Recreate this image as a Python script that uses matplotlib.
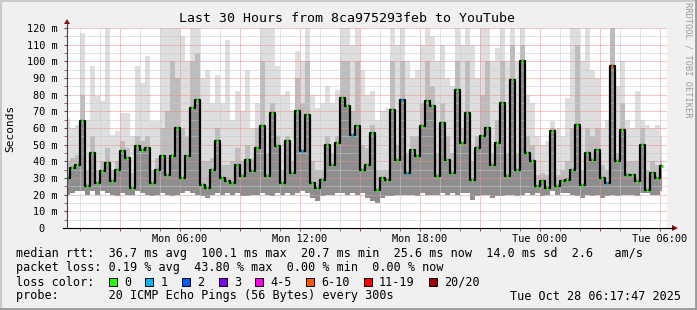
import numpy as np
import matplotlib.pyplot as plt
from matplotlib.patches import Rectangle, Polygon
from matplotlib.lines import Line2D

# SmokePing style graph, 15 minute steps, time in hours from Mon 00:00
t_start = 0.35
t_step = 0.25

# median rtt (ms)
median = [30, 36, 38, 64, 25, 45, 27, 34, 39, 28, 35, 46, 42, 24, 49, 47, 48, 27, 35, 43,
          32, 43, 60, 30, 43, 72, 77, 26, 24, 35, 52, 30, 28, 27, 38, 31, 41, 34, 48, 61,
          31, 69, 49, 27, 52, 33, 70, 46, 68, 27, 24, 29, 50, 38, 51, 78, 73, 56, 61, 35,
          38, 57, 23, 30, 29, 71, 41, 77, 33, 47, 43, 61, 76, 73, 31, 63, 41, 33, 83, 51,
          69, 29, 48, 55, 60, 38, 51, 75, 31, 89, 35, 100, 45, 40, 25, 28, 24, 58, 25, 28,
          29, 35, 62, 26, 45, 41, 47, 30, 27, 97, 40, 59, 32, 32, 28, 50, 23, 33, 30, 37]

# smoke: highest ping
smoke_hi = [66, 60, 62, 117, 65, 97, 79, 76, 120, 56, 58, 69, 69, 55, 97, 87, 103, 64, 64, 120,
            120, 120, 120, 115, 100, 120, 120, 90, 95, 75, 92, 75, 113, 65, 82, 70, 95, 60, 75, 120,
            120, 120, 97, 80, 82, 70, 106, 100, 120, 80, 72, 75, 85, 75, 83, 120, 120, 110, 120, 95,
            80, 82, 65, 70, 72, 120, 110, 120, 100, 90, 95, 110, 120, 115, 100, 110, 90, 85, 120, 110,
            120, 110, 90, 120, 120, 100, 108, 120, 100, 120, 100, 120, 80, 75, 55, 50, 52, 64, 60, 55,
            78, 120, 120, 100, 120, 95, 90, 60, 65, 120, 85, 100, 65, 60, 82, 65, 62, 60, 62, 55]

# smoke: top of the dense part
smoke_mid = [40, 42, 44, 80, 35, 55, 35, 40, 48, 35, 40, 52, 48, 33, 55, 52, 55, 35, 42, 60,
             70, 100, 90, 60, 55, 100, 105, 40, 40, 42, 60, 38, 38, 40, 48, 40, 50, 42, 60, 100,
             45, 75, 55, 35, 55, 40, 90, 75, 100, 40, 35, 35, 55, 45, 55, 100, 100, 70, 100, 50,
             48, 62, 35, 35, 35, 100, 50, 100, 45, 55, 55, 75, 100, 85, 45, 75, 55, 45, 100, 60,
             100, 40, 55, 80, 100, 45, 65, 100, 45, 110, 45, 110, 55, 50, 32, 33, 32, 60, 32, 35,
             40, 60, 110, 35, 60, 55, 60, 38, 35, 120, 45, 75, 40, 40, 40, 60, 35, 40, 38, 40]

# smoke: lowest ping
smoke_lo = [20, 21, 22, 22, 20, 22, 20, 22, 21, 20, 19, 21, 20, 20, 22, 21, 20, 19, 20, 21,
            20, 19, 20, 21, 22, 21, 20, 19, 18, 20, 21, 20, 21, 20, 21, 19, 19, 20, 20, 21,
            20, 19, 21, 20, 21, 20, 21, 22, 21, 18, 16, 19, 20, 20, 21, 21, 20, 21, 20, 21,
            18, 16, 15, 18, 19, 19, 20, 20, 20, 20, 19, 21, 20, 20, 20, 21, 20, 21, 20, 21,
            21, 17, 19, 20, 20, 18, 19, 19, 20, 20, 19, 20, 21, 20, 21, 19, 20, 22, 20, 21,
            21, 20, 19, 18, 20, 19, 20, 18, 19, 20, 19, 20, 20, 20, 19, 21, 21, 20, 20, 22]

# lost pings out of 20
loss = [0, 0, 0, 0, 0, 0, 0, 0, 0, 0, 0, 0, 0, 0, 0, 0, 0, 0, 0, 0,
        0, 0, 0, 0, 0, 0, 0, 0, 0, 0, 0, 0, 0, 0, 0, 0, 0, 0, 0, 0,
        0, 0, 0, 0, 0, 0, 0, 1, 0, 0, 0, 0, 0, 0, 0, 0, 0, 1, 0, 0,
        0, 0, 0, 0, 0, 0, 0, 1, 1, 0, 0, 0, 0, 0, 0, 0, 0, 0, 0, 0,
        0, 0, 0, 0, 0, 0, 0, 0, 0, 0, 0, 0, 0, 0, 0, 0, 0, 0, 0, 0,
        0, 0, 0, 0, 0, 0, 0, 0, 1, 7, 0, 0, 0, 0, 0, 0, 0, 0, 0, 0]

loss_labels = ['0', '1', '2', '3', '4-5', '6-10', '11-19', '20/20']
loss_colors = ['#26ff00', '#00b8ff', '#0059ff', '#7e00ff', '#ff00ea', '#ff5500', '#ff0000', '#a10000']
loss_upper = [0, 1, 2, 3, 5, 10, 19, 20]

x_labels = ['Mon 06:00', 'Mon 12:00', 'Mon 18:00', 'Tue 00:00', 'Tue 06:00']
x_label_hours = [6, 12, 18, 24, 30]

stats_rtt = 'median rtt:  36.7 ms avg  100.1 ms max  20.7 ms min  25.6 ms now  14.0 ms sd  2.6   am/s'
stats_loss = 'packet loss: 0.19 % avg  43.80 % max  0.00 % min  0.00 % now'
probe_text = 'probe:       20 ICMP Echo Pings (56 Bytes) every 300s'
date_text = 'Tue Oct 28 06:17:47 2025'
title = 'Last 30 Hours from 8ca975293feb to YouTube'

W, H = 697, 310
plt.rcParams['font.family'] = ['DejaVu Sans Mono']
fig = plt.figure(figsize=(W / 100, H / 100), dpi=100, facecolor='#f0f0f0')


def fx(px):
    return px / W


def fy(py):
    return 1 - py / H


ax = fig.add_axes([fx(67), fy(228), fx(600), 200 / H])
ax.set_facecolor('white')

t = t_start + t_step * np.arange(len(median))
ax.fill_between(t, smoke_lo, smoke_hi, step='mid', color='#dedede', lw=0, zorder=1)
ax.fill_between(t, smoke_lo, smoke_mid, step='mid', color='#bdbdbd', lw=0, zorder=1.1)
ax.fill_between(t, smoke_lo, median, step='mid', color='#8e8e8e', lw=0, zorder=1.2)
ax.step(t, median, where='mid', color='black', lw=1.6, zorder=3)

# median coloured by loss
cols = [loss_colors[np.searchsorted(loss_upper, l)] for l in loss]
ax.hlines(median, t - 0.07, t + 0.07, colors=cols, lw=2.2, zorder=4)

ax.set_xlim(t_start, t_start + 30)
ax.set_ylim(0, 120)

# grid
ax.set_yticks(np.arange(0, 121, 10))
ax.set_yticks(np.arange(5, 120, 10), minor=True)
ax.set_xticks(np.arange(3, 31, 3))
ax.set_xticks(np.arange(1, 31, 1), minor=True)
ax.grid(which='major', color='#eb8f8f', lw=0.72, linestyle=(0, (1, 1)), zorder=2)
ax.grid(which='minor', color='#c8c8c8', lw=0.72, linestyle=(0, (1, 1)), zorder=2)
ax.set_axisbelow(False)

ax.set_yticklabels(['0  '] + ['%d m' % v for v in range(10, 121, 10)])
xt = [x_labels[x_label_hours.index(h)] if h in x_label_hours else '' for h in range(3, 31, 3)]
ax.set_xticklabels(xt)
ax.tick_params(axis='both', which='both', length=2, direction='out', labelsize=7.4, color='#b04040')
ax.tick_params(axis='y', pad=5, color='#555555')
ax.tick_params(axis='x', pad=2)

for s in ax.spines.values():
    s.set_visible(False)

# axes lines with arrows
fig.add_artist(Line2D([fx(67), fx(67)], [fy(228), fy(24)], color='#444444', lw=0.8))
fig.add_artist(Line2D([fx(63), fx(673)], [fy(228), fy(228)], color='black', lw=0.8))
fig.add_artist(Polygon([[fx(64), fy(24)], [fx(70), fy(24)], [fx(67), fy(19)]], closed=True,
                       color='#8b1010', lw=0))
fig.add_artist(Polygon([[fx(672), fy(225)], [fx(672), fy(231)], [fx(678), fy(228)]], closed=True,
                       color='#8b1010', lw=0))

# texts
fig.text(fx(347), fy(18), title, ha='center', va='center', fontsize=9.5)
fig.text(fx(10), fy(128), 'Seconds', rotation=90, ha='center', va='center', fontsize=8)
fig.text(fx(688), fy(60), 'RRDTOOL / TOBI OETIKER', rotation=270, ha='center', va='center',
         fontsize=6.2, color='#999999')

fs = 8.5
cw = 7.1
fig.text(fx(16), fy(254), stats_rtt, ha='left', va='center', fontsize=fs)
fig.text(fx(16), fy(268), stats_loss, ha='left', va='center', fontsize=fs)
fig.text(fx(16), fy(282), 'loss color:', ha='left', va='center', fontsize=fs)
bx = 108.7
for lab, col in zip(loss_labels, loss_colors):
    fig.add_artist(Rectangle((fx(bx), fy(286)), fx(8), 8 / H, facecolor=col,
                             edgecolor='black', lw=0.7))
    fig.text(fx(bx + 15.3), fy(282), lab, ha='left', va='center', fontsize=fs)
    bx += 15.3 + cw * (len(lab) + 2)
fig.text(fx(16), fy(296), probe_text, ha='left', va='center', fontsize=fs)
fig.text(fx(681), fy(296), date_text, ha='right', va='center', fontsize=fs)

# 3d frame
fig.add_artist(Line2D([0, 1], [fy(1), fy(1)], color='#cbcbcb', lw=1.5))
fig.add_artist(Line2D([fx(1), fx(1)], [0, 1], color='#cbcbcb', lw=1.5))
fig.add_artist(Line2D([0, 1], [fy(308.5), fy(308.5)], color='#999999', lw=2))
fig.add_artist(Line2D([fx(695.5), fx(695.5)], [0, 1], color='#999999', lw=2))

fig.savefig('out.png', dpi=100, facecolor=fig.get_facecolor())
